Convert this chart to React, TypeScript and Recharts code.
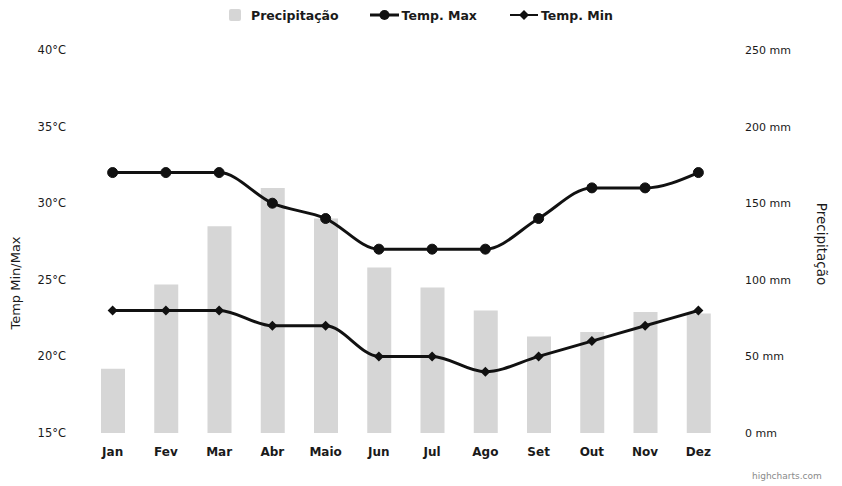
import React from "react";
import { Bar, ComposedChart, Legend, Line, XAxis, YAxis } from "recharts";

// valores (Temp em °C, precipitação em mm)
const MONTHS = ["Jan", "Fev", "Mar", "Abr", "Maio", "Jun", "Jul", "Ago", "Set", "Out", "Nov", "Dez"];
const PRECIP = [42, 97, 135, 160, 140, 108, 95, 80, 63, 66, 79, 78];
const TEMP_MAX = [32, 32, 32, 30, 29, 27, 27, 27, 29, 31, 31, 32];
const TEMP_MIN = [23, 23, 23, 22, 22, 20, 20, 19, 20, 21, 22, 23];
const TEMP_TICKS = [15, 20, 25, 30, 35, 40];
const PRECIP_TICKS = [0, 50, 100, 150, 200, 250];

const data = MONTHS.map((month, i) => ({
  month,
  precip: PRECIP[i],
  max: TEMP_MAX[i],
  min: TEMP_MIN[i],
}));

const COLORS = {
  bar: "#d6d6d6",
  line: "#111111",
  text: "#1a1a1a",
  credit: "#8a8a8a",
};

const FONT = "'DejaVu Sans', Verdana, sans-serif";
const Y_TICK = { fill: COLORS.text, fontSize: 11.5, fontFamily: FONT };
const X_TICK = { fill: COLORS.text, fontSize: 12, fontWeight: "bold", fontFamily: FONT };

function Diamond(props: any) {
  const { cx, cy } = props;
  if (cx == null || cy == null) return null;
  const r = 5;
  return (
    <path
      d={`M${cx},${cy - r}L${cx + r},${cy}L${cx},${cy + r}L${cx - r},${cy}Z`}
      fill={COLORS.line}
    />
  );
}

function LegendRow() {
  const item = { display: "flex", alignItems: "center" } as const;
  return (
    <div
      style={{
        display: "flex",
        justifyContent: "center",
        alignItems: "center",
        fontFamily: FONT,
        fontWeight: "bold",
        fontSize: 12.5,
        color: COLORS.text,
        height: 18,
      }}
    >
      <div style={item}>
        <svg width={12} height={12}>
          <rect x={0} y={0} width={12} height={12} rx={2} fill={COLORS.bar} />
        </svg>
        <span style={{ marginLeft: 10 }}>Precipitação</span>
      </div>
      <div style={{ ...item, marginLeft: 31 }}>
        <svg width={29} height={12}>
          <line x1={0} y1={6} x2={29} y2={6} stroke={COLORS.line} strokeWidth={3} />
          <circle cx={14.5} cy={6} r={5} fill={COLORS.line} />
        </svg>
        <span style={{ marginLeft: 3 }}>Temp. Max</span>
      </div>
      <div style={{ ...item, marginLeft: 33 }}>
        <svg width={28} height={12}>
          <line x1={0} y1={6} x2={28} y2={6} stroke={COLORS.line} strokeWidth={2} />
          <path d="M14,1L19,6L14,11L9,6Z" fill={COLORS.line} />
        </svg>
        <span style={{ marginLeft: 3 }}>Temp. Min</span>
      </div>
    </div>
  );
}

export default function App() {
  return (
    <div
      style={{
        position: "absolute",
        left: 0,
        top: 0,
        width: 842,
        height: 486,
        background: "#fff",
        fontFamily: FONT,
      }}
    >
      <ComposedChart
        width={842}
        height={486}
        data={data}
        margin={{ top: 32, right: 37, bottom: 23, left: 6 }}
      >
        <XAxis
          dataKey="month"
          axisLine={false}
          tickLine={false}
          tickMargin={8}
          height={30}
          tick={X_TICK}
          interval={0}
        />
        <YAxis
          yAxisId="temp"
          orientation="left"
          width={80}
          domain={[15, 40]}
          ticks={TEMP_TICKS}
          tickFormatter={(v: number) => `${v}°C`}
          axisLine={false}
          tickLine={false}
          tickMargin={14}
          tick={Y_TICK}
          label={{
            content: () => (
              <text
                x={15}
                y={283}
                transform="rotate(-90 15 283)"
                textAnchor="middle"
                dominantBaseline="central"
                fill={COLORS.text}
                fontSize={13}
                fontFamily={FONT}
              >
                Temp Min/Max
              </text>
            ),
          }}
        />
        <YAxis
          yAxisId="precip"
          orientation="right"
          width={80}
          domain={[0, 250]}
          ticks={PRECIP_TICKS}
          tickFormatter={(v: number) => `${v} mm`}
          axisLine={false}
          tickLine={false}
          tickMargin={14}
          tick={{ ...Y_TICK, fontSize: 11, textAnchor: "start" }}
          label={{
            content: () => (
              <text
                x={822}
                y={244}
                transform="rotate(90 822 244)"
                textAnchor="middle"
                dominantBaseline="central"
                fill={COLORS.text}
                fontSize={13.5}
                fontFamily={FONT}
              >
                Precipitação
              </text>
            ),
          }}
        />
        <Legend
          layout="vertical"
          align="center"
          verticalAlign="top"
          wrapperStyle={{ top: 6, left: 0, width: 842 }}
          content={() => <LegendRow />}
        />
        <Bar
          yAxisId="precip"
          dataKey="precip"
          name="Precipitação"
          fill={COLORS.bar}
          barSize={24}
          isAnimationActive={false}
        />
        <Line
          yAxisId="temp"
          type="monotone"
          dataKey="max"
          name="Temp. Max"
          stroke={COLORS.line}
          strokeWidth={3}
          dot={{ r: 5, fill: COLORS.line, stroke: COLORS.line, strokeWidth: 1 }}
          activeDot={false}
          isAnimationActive={false}
        />
        <Line
          yAxisId="temp"
          type="monotone"
          dataKey="min"
          name="Temp. Min"
          stroke={COLORS.line}
          strokeWidth={3}
          dot={<Diamond />}
          activeDot={false}
          isAnimationActive={false}
        />
      </ComposedChart>
      <div
        style={{
          position: "absolute",
          left: 752,
          top: 471,
          fontSize: 9,
          color: COLORS.credit,
          fontFamily: FONT,
        }}
      >
        highcharts.com
      </div>
    </div>
  );
}
